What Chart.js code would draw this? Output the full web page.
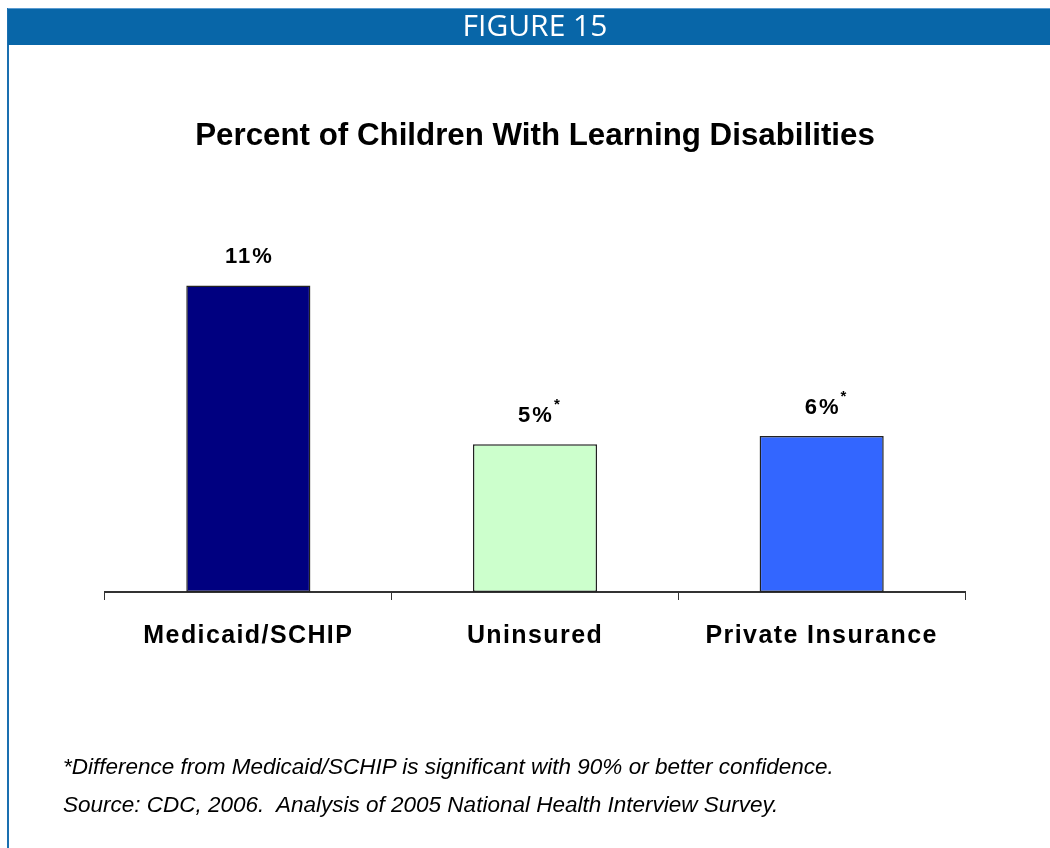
<!DOCTYPE html>
<html>
<head>
<meta charset="utf-8">
<script src="https://cdn.jsdelivr.net/npm/chart.js@4/dist/chart.umd.min.js"></script>
<style>
    html, body { margin: 0; padding: 0; background: #fff; }
    #frame { position: relative; width: 1050px; height: 848px; overflow: hidden; }
    #header {
        position: absolute; left: 8px; top: 8px; width: 1042px; height: 37px;
        background: #0866a8; border-top: 1px solid #5a9bd0; box-sizing: border-box;
    }
    #header span {
        position: absolute; left: 527px; top: 15px; transform: translate(-50%, -50%);
        color: #fff; font: 30px "Open Sans", "Liberation Sans", sans-serif; white-space: nowrap;
    }
    #leftBorder { position: absolute; left: 7px; top: 8px; width: 2px; height: 840px; background: #1a6fb0; }
    .note {
        position: absolute; left: 63px; font: italic 22.5px "Liberation Sans", Arial, sans-serif;
        color: #000; white-space: nowrap;
    }
    canvas { position: absolute; left: 0; top: 0; }
</style>
</head>
<body>
<div id="frame">
    <canvas id="chart" width="1050" height="848"></canvas>
    <div id="leftBorder"></div>
    <div id="header"><span>FIGURE 15</span></div>
    <div class="note" style="top: 754px;">*Difference from Medicaid/SCHIP is significant with 90% or better confidence.</div>
    <div class="note" style="top: 792px;">Source: CDC, 2006.&nbsp; Analysis of 2005 National Health Interview Survey.</div>
</div>
<script>
const categories = ['Medicaid/SCHIP', 'Uninsured', 'Private Insurance'];
const percentValues = [11, 5.3, 5.6];
const valueLabels = ['11%', '5%', '6%'];
const significanceMarks = ['', '*', '*'];
const barColors = ['#000080', '#ccffcc', '#3366ff'];

// value labels above bars, with a raised asterisk where significant;
// also widens the letter spacing for the x tick labels drawn right after
const barLabelPlugin = {
    id: 'barLabels',
    afterDatasetsDraw(chart) {
        const ctx = chart.ctx;
        const meta = chart.getDatasetMeta(0);
        ctx.save();
        ctx.fillStyle = '#000';
        ctx.textBaseline = 'middle';
        meta.data.forEach((bar, i) => {
            ctx.font = 'bold 22px "Liberation Sans", Arial, sans-serif';
            ctx.letterSpacing = '2px';
            ctx.textAlign = 'center';
            const y = bar.y - 28;
            ctx.fillText(valueLabels[i], bar.x + 1, y);
            if (significanceMarks[i]) {
                const w = ctx.measureText(valueLabels[i]).width;
                ctx.font = 'bold 15px "Liberation Sans", Arial, sans-serif';
                ctx.letterSpacing = '0px';
                ctx.textAlign = 'left';
                ctx.fillText(significanceMarks[i], bar.x + w / 2 + 1, y - 11);
            }
        });
        ctx.restore();
        ctx.letterSpacing = '1.4px';
    },
    afterDraw(chart) {
        chart.ctx.letterSpacing = '0px';
    }
};

new Chart(document.getElementById('chart').getContext('2d'), {
    type: 'bar',
    data: {
        labels: categories,
        datasets: [{
            data: percentValues,
            backgroundColor: barColors,
            borderColor: '#222',
            borderWidth: 1.5,
            borderSkipped: false,
            barPercentage: 0.433,
            categoryPercentage: 1.0
        }]
    },
    options: {
        responsive: false,
        animation: false,
        layout: { padding: { left: 105, right: 85, top: 110, bottom: 176 } },
        scales: {
            x: {
                grid: { display: true, drawOnChartArea: false, drawTicks: true, tickLength: 8, color: '#333', offset: true },
                border: { display: true, color: '#333', width: 2 },
                ticks: { z: 1, color: '#000', padding: 21, font: { family: '"Liberation Sans", Arial, sans-serif', size: 25, weight: 'bold' } }
            },
            y: { display: false, min: 0, max: 12 }
        },
        plugins: {
            legend: { display: false },
            tooltip: { enabled: false },
            title: {
                display: true,
                text: 'Percent of Children With Learning Disabilities',
                color: '#000',
                font: { family: '"Liberation Sans", Arial, sans-serif', size: 31.3, weight: 'bold' },
                padding: { top: 8, bottom: 102 }
            }
        }
    },
    plugins: [barLabelPlugin]
});
</script>
</body>
</html>
